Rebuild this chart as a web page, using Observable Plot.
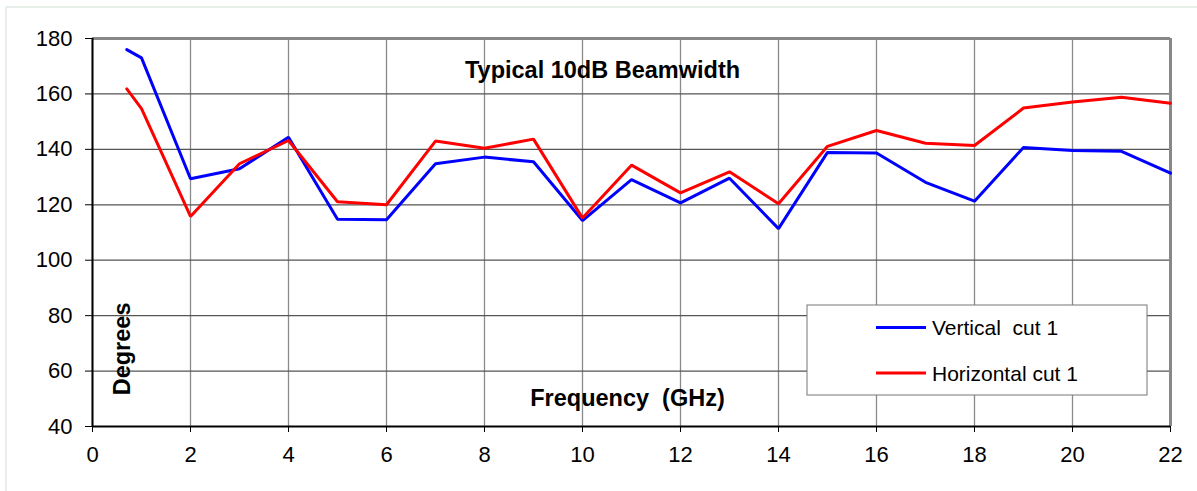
<!DOCTYPE html>
<html>
<head>
<meta charset="utf-8">
<script src="https://cdn.jsdelivr.net/npm/d3@7"></script>
<script src="https://cdn.jsdelivr.net/npm/@observablehq/plot@0.6"></script>
<style>
  html, body { margin: 0; padding: 0; background: #fff; }
  svg text { white-space: pre; }
</style>
</head>
<body>
<div id="chart"></div>
<script>
const freq = [0.7, 1, 2, 3, 4, 5, 6, 7, 8, 9, 10, 11, 12, 13, 14, 15, 16, 17, 18, 19, 20, 21, 22];
const vertical = [176, 173, 129.4, 133, 144.4, 114.8, 114.6, 134.8, 137.2, 135.5, 114.3, 129.1, 120.7, 129.6, 111.4, 138.9, 138.7, 128.1, 121.3, 140.7, 139.6, 139.3, 131.4];
const horizontal = [161.8, 154.7, 115.8, 134.8, 143.2, 121.1, 120, 143, 140.4, 143.7, 115.2, 134.3, 124.3, 131.9, 120.4, 141.1, 146.8, 142.2, 141.4, 154.9, 157.1, 158.8, 156.6];
const seriesNames = ["Vertical  cut 1", "Horizontal cut 1"];
const seriesColors = ["#0000ff", "#ff0000"];
const xTicks = [0, 2, 4, 6, 8, 10, 12, 14, 16, 18, 20, 22];
const yTicks = [40, 60, 80, 100, 120, 140, 160, 180];
const title = "Typical 10dB Beamwidth";
const xLabel = "Frequency  (GHz)";
const yLabel = "Degrees";

const rows = [];
freq.forEach((f, i) => {
  rows.push({f, v: vertical[i], s: seriesNames[0]});
});
freq.forEach((f, i) => {
  rows.push({f, v: horizontal[i], s: seriesNames[1]});
});

const font = "'Liberation Sans', Arial, sans-serif";

const plot = Plot.plot({
  width: 1197,
  height: 491,
  marginLeft: 92,
  marginRight: 27,
  marginTop: 38,
  marginBottom: 65,
  style: {fontFamily: font, fontSize: "22px", color: "#000", background: "#fff"},
  x: {domain: [0, 22], label: null},
  y: {domain: [40, 180], label: null},
  color: {domain: seriesNames, range: seriesColors},
  marks: [
    Plot.ruleX(xTicks, {stroke: "#8a8a8a", strokeWidth: 1.3}),
    Plot.ruleY(yTicks, {stroke: "#555", strokeWidth: 1.2}),
    Plot.ruleY([180], {stroke: "#888", strokeWidth: 3}),
    Plot.ruleX([22], {stroke: "#888", strokeWidth: 3}),
    Plot.ruleX([0], {stroke: "#000", strokeWidth: 2}),
    Plot.ruleY([40], {stroke: "#000", strokeWidth: 2}),
    Plot.axisX(xTicks, {tickSize: 6, tickPadding: 14, fontSize: 22, stroke: "#000", label: null, tickFormat: d => String(d)}),
    Plot.axisY(yTicks, {tickSize: 7, tickPadding: 13, fontSize: 22, stroke: "#000", label: null, tickFormat: d => String(d)}),
    Plot.line(rows, {x: "f", y: "v", z: "s", stroke: "s", strokeWidth: 3, strokeLinejoin: "miter"}),
    Plot.text([title], {frameAnchor: "top", dx: -29, dy: 23, fontSize: 23.5, fontWeight: "bold", fill: "#000"}),
    Plot.text([xLabel], {frameAnchor: "bottom", dx: -4, dy: -21, fontSize: 23.5, fontWeight: "bold", fill: "#000"}),
    Plot.text([yLabel], {x: () => 0.62, y: () => 68, rotate: -90, fontSize: 23.5, fontWeight: "bold", fill: "#000"})
  ]
});

const svg = d3.select(plot);
// faint outer frame
svg.append("line").attr("x1", 6).attr("x2", 1197).attr("y1", 7).attr("y2", 7).attr("stroke", "#e8eee8").attr("stroke-width", 2);
svg.append("line").attr("x1", 6).attr("x2", 6).attr("y1", 7).attr("y2", 491).attr("stroke", "#e8eee8").attr("stroke-width", 2);

// legend
const lg = svg.append("g");
lg.append("rect").attr("x", 807).attr("y", 305).attr("width", 340).attr("height", 90)
  .attr("fill", "#fff").attr("stroke", "#777").attr("stroke-width", 1);
seriesNames.forEach((name, i) => {
  const cy = 327.5 + i * 45.5;
  lg.append("line").attr("x1", 876).attr("x2", 926).attr("y1", cy).attr("y2", cy)
    .attr("stroke", seriesColors[i]).attr("stroke-width", 3);
  lg.append("text").attr("x", 932).attr("y", cy + 7.5).attr("font-size", 21)
    .attr("text-anchor", "start")
    .attr("font-family", font).attr("fill", "#000").text(name);
});

document.getElementById("chart").appendChild(plot);
</script>
</body>
</html>
